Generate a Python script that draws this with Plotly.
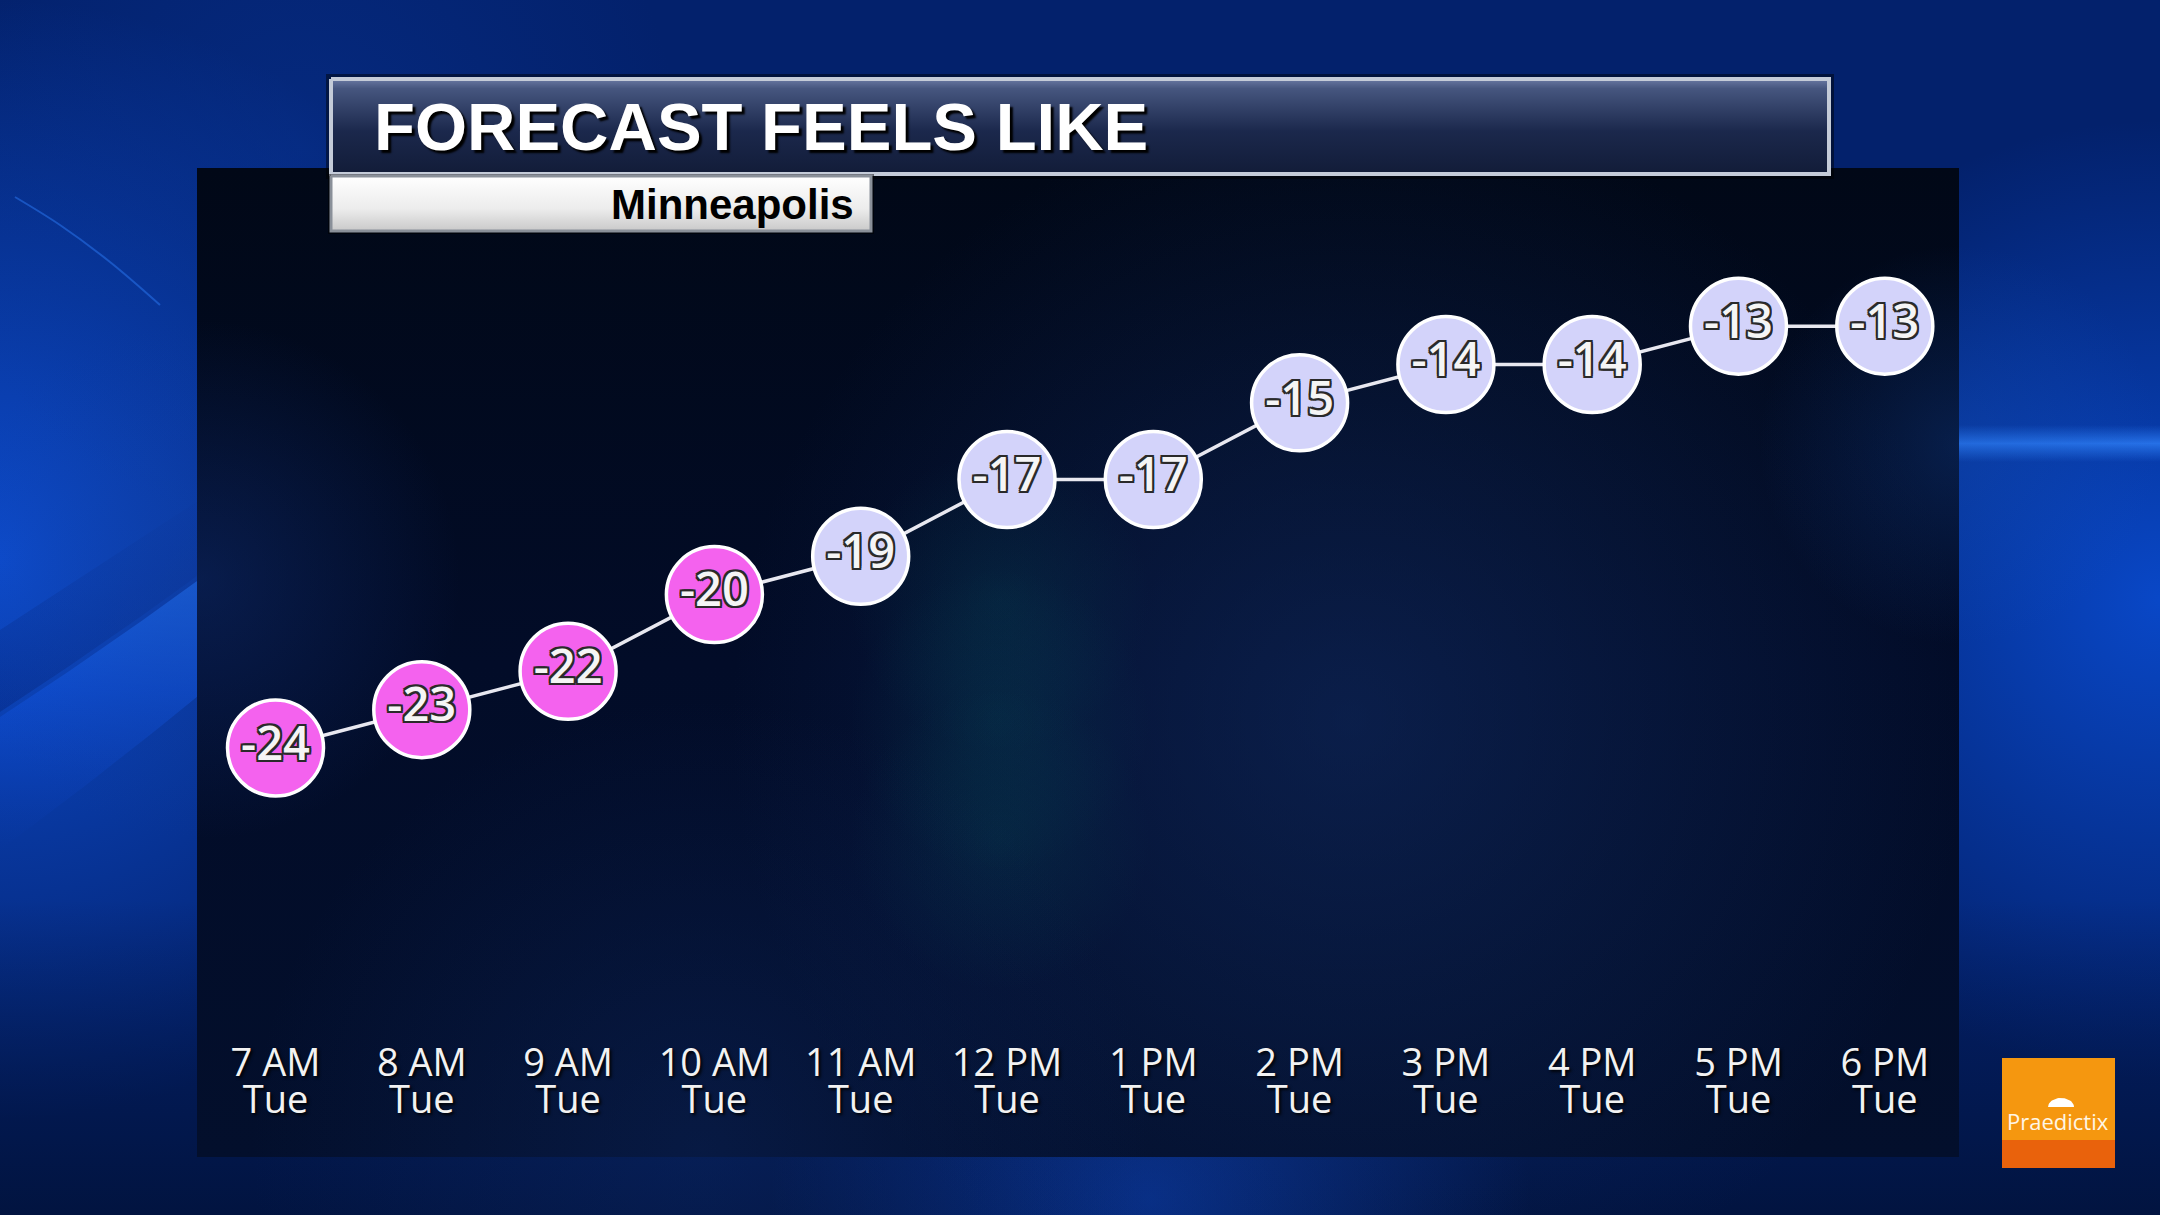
import numpy as np
import plotly.graph_objects as go

# ---------------- data ----------------
hours = ["7 AM", "8 AM", "9 AM", "10 AM", "11 AM", "12 PM",
         "1 PM", "2 PM", "3 PM", "4 PM", "5 PM", "6 PM"]
days = ["Tue", "Tue", "Tue", "Tue", "Tue", "Tue",
        "Tue", "Tue", "Tue", "Tue", "Tue", "Tue"]
feels_like = [-24, -23, -22, -20, -19, -17, -17, -15, -14, -14, -13, -13]

title_text = "FORECAST FEELS LIKE"
location = "Minneapolis"
brand = "Praedictix"

# ---------------- style ----------------
W, H = 2160, 1215
PINK = "#F462EE"
LAV = "#D3D3FA"
COLD_LIMIT = -20

fig = go.Figure()


def ellipse(cx, cy, rx, ry, n=90):
    t = np.linspace(0, 2 * np.pi, n)
    return list(cx + rx * np.cos(t)), list(cy + ry * np.sin(t))


def deco(xs, ys, color=None, grad=None, line=None):
    kw = dict(x=xs, y=ys, mode="lines", fill="toself", hoverinfo="skip",
              showlegend=False, xaxis="x", yaxis="y")
    if line is None:
        kw["line"] = dict(width=0, color="rgba(0,0,0,0)")
    else:
        kw["line"] = line
    if grad is not None:
        kw["fillgradient"] = grad
        kw["fillcolor"] = "rgba(0,0,0,0)"
    else:
        kw["fillcolor"] = color
    fig.add_trace(go.Scatter(**kw))


def rect(x0, y0, x1, y1):
    return [x0, x1, x1, x0, x0], [y0, y0, y1, y1, y0]


def radial(c0, c1):
    return dict(type="radial", colorscale=[[0, c0], [1, c1]])


def vert(stops, y0, y1):
    return dict(type="vertical", colorscale=stops, start=y0, stop=y1)


# ---- outer background glows ----
xs, ys = ellipse(0, 560, 560, 560)
deco(xs, ys, grad=radial("rgba(14,80,215,0.9)", "rgba(14,80,215,0)"))
xs, ys = ellipse(2160, 600, 480, 480)
deco(xs, ys, grad=radial("rgba(10,78,215,0.85)", "rgba(10,78,215,0)"))
xs, ys = ellipse(300, 150, 380, 380)
deco(xs, ys, grad=radial("rgba(8,52,150,0.45)", "rgba(8,52,150,0)"))
# bottom darkening
xs, ys = rect(0, 900, W, H)
deco(xs, ys, grad=vert([[0, "rgba(1,14,45,0)"], [1, "rgba(1,14,45,0.7)"]], 900, H))
# left bright streak band
t = np.linspace(0, 1, 40)
ux = list(0 + 230 * t)
uy = list(717 - 150 * t - 10 * t * t)
lx = list(230 * t[::-1])
ly = list(850 - 170 * t[::-1] - 10 * t[::-1] ** 2)
deco(ux + lx, uy + ly,
     grad=vert([[0, "rgba(30,110,240,0.95)"], [0.45, "rgba(15,80,215,0.7)"],
                [1, "rgba(10,60,180,0)"]], 560, 850))
# slightly darker arc above streak
xs = list(0 + 230 * t) + list(230 * t[::-1])
ys = list(712 - 150 * t - 10 * t * t) + list(630 - 150 * t[::-1])
deco(xs, ys, grad=vert([[0, "rgba(3,30,110,0)"], [1, "rgba(3,30,110,0.35)"]], 480, 712))
# thin top-left streak
fig.add_trace(go.Scatter(x=[15, 60, 110, 160], y=[197, 225, 262, 305], mode="lines",
                         line=dict(color="rgba(40,115,235,0.55)", width=2, shape="spline"),
                         hoverinfo="skip", showlegend=False, xaxis="x", yaxis="y"))
# right horizontal streak
xs, ys = rect(1900, 425, W, 462)
deco(xs, ys, grad=vert([[0, "rgba(40,120,240,0)"], [0.5, "rgba(45,125,245,0.8)"],
                        [1, "rgba(40,120,240,0)"]], 425, 462))
# bottom strip lighter part
xs, ys = ellipse(1150, 1200, 380, 380)
deco(xs, ys, grad=radial("rgba(12,64,180,0.6)", "rgba(12,64,180,0)"))

# ---- dark panel ----
xs, ys = rect(197, 168, 1959, 1157)
deco(xs, ys, grad=vert([[0, "#010817"], [0.5, "#020c28"], [1, "#030f2c"]], 168, 1157))

# panel glows
xs, ys = ellipse(1350, 720, 620, 620)
deco(xs, ys, grad=radial("rgba(22,55,120,0.42)", "rgba(22,55,120,0)"))
for cy in (600, 720, 840):
    xs, ys = ellipse(1000, cy, 150, 150)
    deco(xs, ys, grad=radial("rgba(8,90,100,0.22)", "rgba(8,90,100,0)"))
xs, ys = ellipse(200, 580, 260, 260)
deco(xs, ys, grad=radial("rgba(20,60,150,0.35)", "rgba(20,60,150,0)"))
xs, ys = ellipse(700, 1150, 450, 450)
deco(xs, ys, grad=radial("rgba(15,45,110,0.35)", "rgba(15,45,110,0)"))
xs, ys = ellipse(1959, 445, 200, 200)
deco(xs, ys, grad=radial("rgba(25,90,200,0.25)", "rgba(25,90,200,0)"))

# ---- title bar ----
xs, ys = rect(326, 74, 1834, 179)
deco(xs, ys, color="rgba(0,0,0,0.45)")
xs, ys = rect(331, 79, 1829, 174)
deco(xs, ys,
     grad=vert([[0, "#6a79a3"], [0.1, "#46567f"], [0.55, "#1b284c"], [1, "#121c38"]], 79, 174),
     line=dict(color="#c4cbd8", width=4))
# subtitle box
xs, ys = rect(328, 174, 874, 234)
deco(xs, ys, color="rgba(0,0,0,0.5)")
xs, ys = rect(331, 176, 871, 231)
deco(xs, ys, grad=vert([[0, "#ffffff"], [0.6, "#ececec"], [1, "#c9c9c9"]], 176, 231),
     line=dict(color="#8a9099", width=3))

# ---- logo ----
xs, ys = rect(2002, 1058, 2115, 1140)
deco(xs, ys, color="#F5970F")
xs, ys = rect(2002, 1140, 2115, 1168)
deco(xs, ys, color="#E9620C")
tt = np.linspace(np.pi, 2 * np.pi, 30)
deco(list(2061 + 13 * np.cos(tt)), list(1107 + 9 * np.sin(tt)), color="#ffffff")

# ---------------- data traces ----------------
colors = [PINK if v <= COLD_LIMIT else LAV for v in feels_like]
outline = ",".join(f"{dx}px {dy}px 0 #2a2a2a" for dx, dy in
                   [(-2, -2), (2, -2), (-2, 2), (2, 2), (0, 2), (2, 0), (0, -2), (-2, 0)])
fig.add_trace(go.Scatter(
    x=hours, y=feels_like, xaxis="x2", yaxis="y2",
    mode="lines+markers+text",
    line=dict(color="#e8e8f0", width=3.5),
    marker=dict(size=96, color=colors, line=dict(color="#ffffff", width=3.5), opacity=1),
    text=[str(v) for v in feels_like], textposition="middle center",
    textfont=dict(family="Open Sans", size=47, weight=600, color="#f5f5f5", shadow=outline),
    hoverinfo="skip", showlegend=False, cliponaxis=False,
))
fig.add_trace(go.Scatter(
    x=hours, y=feels_like, xaxis="x3", yaxis="y2", mode="markers",
    marker=dict(size=1, opacity=0), hoverinfo="skip", showlegend=False,
))

# ---------------- annotations ----------------
fig.add_annotation(x=372, y=126, xref="x", yref="y", xanchor="left", yanchor="middle",
                   text=title_text, showarrow=False,
                   font=dict(family="Liberation Sans", size=67, weight="bold", color="#ffffff",
                             shadow="3px 3px 2px #000000"))
fig.add_annotation(x=856, y=204, xref="x", yref="y", xanchor="right", yanchor="middle",
                   text=location, showarrow=False,
                   font=dict(family="Liberation Sans", size=42, weight="bold", color="#000000"))
fig.add_annotation(x=2058, y=1121, xref="x", yref="y", xanchor="center", yanchor="middle",
                   text=brand, showarrow=False,
                   font=dict(family="Open Sans", size=22, color="#fff6e6"))

# ---------------- layout ----------------
idx_span = 146.3
x_lo = -275.5 / idx_span
x_hi = (W - 275.5) / idx_span
px_per = 38.35
y_hi = -24 + 748 / px_per
y_lo = -24 - (H - 748) / px_per

tickfont = dict(family="Open Sans", size=38, color="#f2f2f2",
                shadow="2px 2px 3px rgba(0,0,0,0.9)")

fig.update_layout(
    width=W, height=H, margin=dict(l=0, r=0, t=0, b=0),
    paper_bgcolor="#03216c", plot_bgcolor="rgba(0,0,0,0)",
    showlegend=False,
    xaxis=dict(range=[0, W], visible=False, domain=[0, 1], fixedrange=True),
    yaxis=dict(range=[H, 0], visible=False, domain=[0, 1], fixedrange=True),
    xaxis2=dict(overlaying="x", type="category", range=[x_lo, x_hi], anchor="free",
                position=1 - 1037 / H, showgrid=False, zeroline=False, showline=False,
                ticks="", tickfont=tickfont, categoryorder="array", categoryarray=hours),
    xaxis3=dict(overlaying="x", type="category", range=[x_lo, x_hi], anchor="free",
                position=1 - 1074 / H, showgrid=False, zeroline=False, showline=False,
                ticks="", tickfont=tickfont, tickmode="array", tickvals=hours, ticktext=days,
                categoryorder="array", categoryarray=hours),
    yaxis2=dict(overlaying="y", range=[y_lo, y_hi], visible=False, showgrid=False),
)

fig.write_html("out.html", config={"displayModeBar": False},
               post_script="document.body.style.margin='0';")
